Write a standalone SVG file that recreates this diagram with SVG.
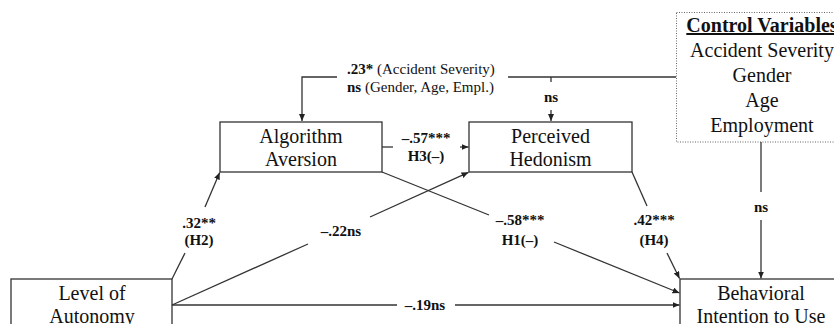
<svg xmlns="http://www.w3.org/2000/svg" width="834" height="324" viewBox="0 0 834 324">
  <style>
    .box { fill: #ffffff; stroke: #333333; stroke-width: 1.3; }
    .dotbox { fill: #ffffff; stroke: #666666; stroke-width: 1; stroke-dasharray: 1 1.5; }
    .node { font-family: "Liberation Serif", "Times New Roman", serif; font-size: 20px; fill: #111111; text-anchor: middle; }
    .lbl { font-family: "Liberation Serif", "Times New Roman", serif; font-size: 15px; font-weight: bold; fill: #111111; text-anchor: middle; }
    .note { font-family: "Liberation Serif", "Times New Roman", serif; font-size: 15px; fill: #111111; }
    .edge { fill: none; stroke: #333333; stroke-width: 1.3; }
    .arrow { fill: none; stroke: #333333; stroke-width: 1.3; marker-end: url(#head); }
  </style>
  <defs>
    <marker id="head" markerUnits="userSpaceOnUse" markerWidth="8" markerHeight="7" refX="7" refY="3" orient="auto">
      <path d="M0,0 L7,3 L0,6 z" fill="#222222"/>
    </marker>
  </defs>

  <rect width="834" height="324" fill="#ffffff"/>

  <!-- nodes -->
  <g id="control-variables">
    <rect class="dotbox" x="676.5" y="12.5" width="170" height="129.5"/>
    <text class="node" x="762" y="32" font-weight="bold" text-decoration="underline">Control Variables</text>
    <text class="node" x="762" y="57">Accident Severity</text>
    <text class="node" x="762" y="82">Gender</text>
    <text class="node" x="762" y="107">Age</text>
    <text class="node" x="762" y="132">Employment</text>
  </g>

  <g id="algorithm-aversion">
    <rect class="box" x="220" y="122" width="162" height="50"/>
    <text class="node" x="301" y="143">Algorithm</text>
    <text class="node" x="301" y="166">Aversion</text>
  </g>

  <g id="perceived-hedonism">
    <rect class="box" x="469" y="122" width="163" height="50"/>
    <text class="node" x="550.5" y="143">Perceived</text>
    <text class="node" x="550.5" y="166">Hedonism</text>
  </g>

  <g id="level-of-autonomy">
    <rect class="box" x="11" y="279" width="161" height="60"/>
    <text class="node" x="92" y="300">Level of</text>
    <text class="node" x="92" y="323">Autonomy</text>
  </g>

  <g id="behavioral-intention">
    <rect class="box" x="680" y="279" width="162" height="60"/>
    <text class="node" x="761" y="300">Behavioral</text>
    <text class="node" x="761" y="323">Intention to Use</text>
  </g>

  <!-- connectors -->
  <g id="connectors">
    <!-- control variables to mediators -->
    <polyline class="arrow" points="337,77 302,77 302,121"/>
    <line class="edge" x1="508" y1="77" x2="676" y2="77"/>
    <line class="edge" x1="551" y1="77" x2="551" y2="82"/>
    <line class="arrow" x1="551" y1="110" x2="551" y2="121"/>

    <!-- algorithm aversion to perceived hedonism -->
    <line class="edge" x1="382" y1="147" x2="393" y2="147"/>
    <line class="arrow" x1="460" y1="147" x2="468.5" y2="147"/>

    <!-- level of autonomy to algorithm aversion -->
    <line class="edge" x1="172" y1="279" x2="185" y2="253"/>
    <line class="arrow" x1="205" y1="207" x2="219.7" y2="172.5"/>

    <!-- level of autonomy to perceived hedonism -->
    <line class="edge" x1="172" y1="305" x2="308" y2="244"/>
    <line class="arrow" x1="370" y1="217" x2="468.5" y2="172.3"/>

    <!-- algorithm aversion to behavioral intention -->
    <line class="edge" x1="382" y1="172" x2="489" y2="215"/>
    <line class="arrow" x1="554" y1="242" x2="679.5" y2="293"/>

    <!-- perceived hedonism to behavioral intention -->
    <line class="edge" x1="632" y1="172" x2="647" y2="206"/>
    <line class="arrow" x1="667" y1="253" x2="679.5" y2="278.5"/>

    <!-- control variables to behavioral intention -->
    <line class="edge" x1="761" y1="142" x2="761" y2="192"/>
    <line class="arrow" x1="761" y1="220" x2="761" y2="278.5"/>

    <!-- level of autonomy to behavioral intention -->
    <line class="edge" x1="172" y1="305" x2="397" y2="305"/>
    <line class="arrow" x1="455" y1="305" x2="679.5" y2="305"/>
  </g>

  <!-- path coefficients -->
  <g id="labels">
    <text class="note" x="347" y="74"><tspan font-weight="bold">.23*</tspan> (Accident Severity)</text>
    <text class="note" x="347" y="92"><tspan font-weight="bold">ns</tspan> (Gender, Age, Empl.)</text>
    <text class="lbl" x="551" y="102">ns</text>
    <text class="lbl" x="426" y="143">–.57***</text>
    <text class="lbl" x="426" y="161">H3(–)</text>
    <text class="lbl" x="199" y="228">.32**</text>
    <text class="lbl" x="199" y="245">(H2)</text>
    <text class="lbl" x="341" y="236">–.22ns</text>
    <text class="lbl" x="520" y="225">–.58***</text>
    <text class="lbl" x="520" y="245">H1(–)</text>
    <text class="lbl" x="654" y="225">.42***</text>
    <text class="lbl" x="654" y="245">(H4)</text>
    <text class="lbl" x="761" y="212">ns</text>
    <text class="lbl" x="425" y="310">–.19ns</text>
  </g>
</svg>
